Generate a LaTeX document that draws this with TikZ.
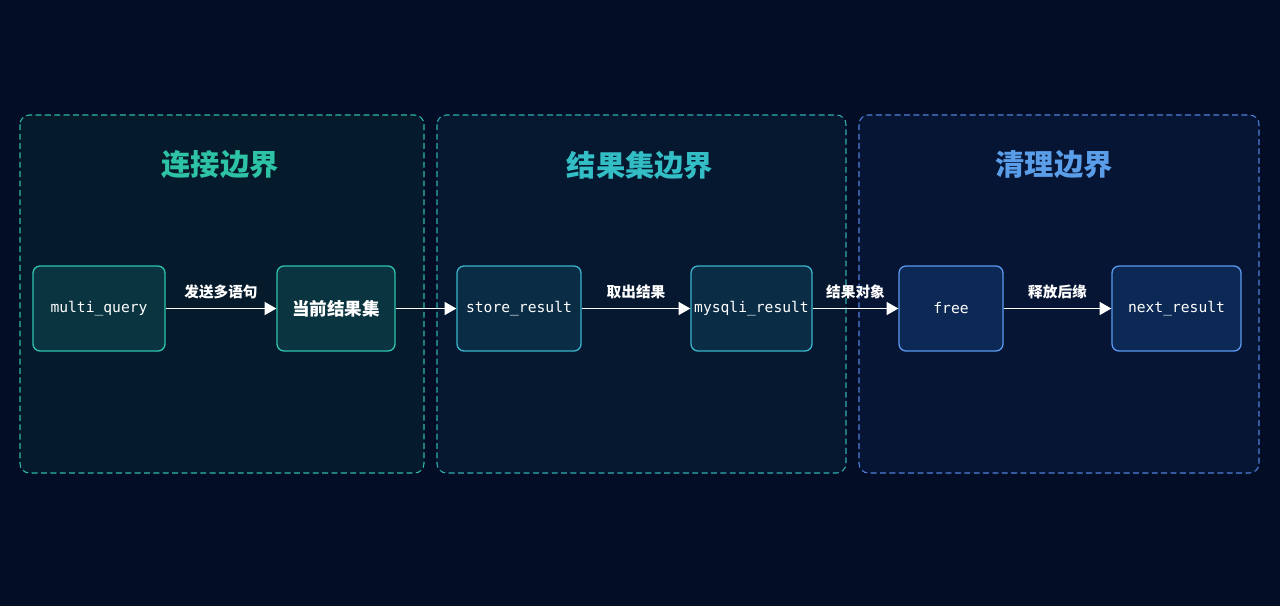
\documentclass[tikz,border=0pt]{standalone}
\usepackage{fontspec}
\setmainfont{Noto Sans CJK SC}
\setmonofont{DejaVu Sans Mono}
\newfontfamily\cjk{Noto Sans CJK SC}
\usetikzlibrary{arrows.meta}
\definecolor{bg}{HTML}{030E26}
\definecolor{c1}{HTML}{2FB8A6}\definecolor{f1}{HTML}{051B2C}
\definecolor{c2}{HTML}{2FACB0}\definecolor{f2}{HTML}{05182F}
\definecolor{c3}{HTML}{5080DC}\definecolor{f3}{HTML}{061534}
\definecolor{t1}{HTML}{2EC3A6}\definecolor{t2}{HTML}{33BEC6}\definecolor{t3}{HTML}{5A9EEA}
\definecolor{n1}{HTML}{2EC4B0}\definecolor{nf1}{HTML}{0A3440}
\definecolor{n2}{HTML}{3AB4CC}\definecolor{nf2}{HTML}{0B2C45}
\definecolor{n3}{HTML}{5A9AF0}\definecolor{nf3}{HTML}{0C2955}
\begin{document}
\begin{tikzpicture}[x=0.03cm,y=-0.03cm,
  cont/.style={draw=#1,dashed,dash pattern=on 5pt off 3pt,line width=0.9pt,rounded corners=8pt},
  title/.style={font=\cjk\bfseries\fontsize{25}{28}\selectfont},
  box/.style={draw=#1,line width=1.1pt,rounded corners=6pt,text=white,inner xsep=0pt,minimum height=2.55cm,font=\ttfamily\fontsize{12.5}{15}\selectfont},
  cbox/.style={box=#1,font=\cjk\bfseries\fontsize{15}{17}\selectfont},
  lab/.style={text=white,font=\cjk\bfseries\fontsize{12.5}{14}\selectfont},
  arr/.style={white,line width=1.4pt,-{Triangle[length=10pt,width=11pt]}}]
\fill[bg] (0,0) rectangle (1280,606);
\useasboundingbox (0,0) rectangle (1280,606);
\draw[cont=c1,fill=f1] (20,115) rectangle (424,473);
\draw[cont=c2,fill=f2] (437,115) rectangle (846,473);
\draw[cont=c3,fill=f3] (859,115) rectangle (1259,473);
\node[title,text=t1] (h1) at (220,165) {连接边界};
\node[title,text=t2] (h2) at (640,165) {结果集边界};
\node[title,text=t3] (h3) at (1054,165) {清理边界};
\node[box=n1,fill=nf1,minimum width=3.96cm] (a) at (99,308.5) {multi\_query};
\node[cbox=n1,fill=nf1,minimum width=3.54cm] (b) at (336,308.5) {当前结果集};
\node[box=n2,fill=nf2,minimum width=3.72cm] (c) at (519,308.5) {store\_result};
\node[box=n2,fill=nf2,minimum width=3.63cm] (d) at (751.5,308.5) {mysqli\_result};
\node[box=n3,fill=nf3,minimum width=3.12cm] (e) at (951,308.5) {free};
\node[box=n3,fill=nf3,minimum width=3.87cm] (f) at (1176.5,308.5) {next\_result};
\draw[arr] (a) -- node[lab,above=4pt] {发送多语句} (b);
\draw[arr] (b) -- (c);
\draw[arr] (c) -- node[lab,above=4pt] {取出结果} (d);
\draw[arr] (d) -- node[lab,above=4pt] {结果对象} (e);
\draw[arr] (e) -- node[lab,above=4pt] {释放后缘} (f);
\end{tikzpicture}
\end{document}
